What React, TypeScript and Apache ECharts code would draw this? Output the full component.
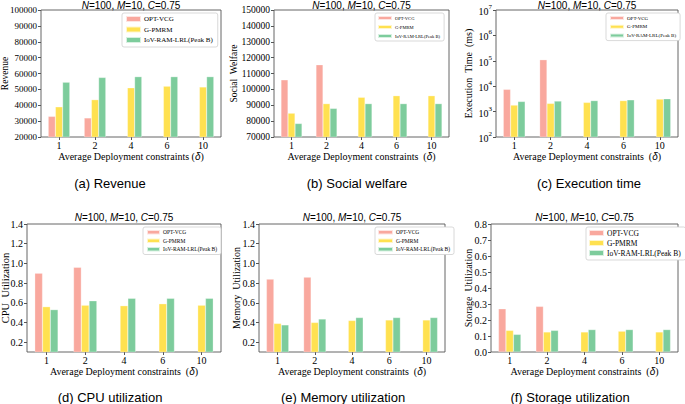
import React, { useEffect, useRef } from 'react';
import * as echarts from 'echarts';

const categories = ['1', '2', '4', '6', '10'];
const seriesNames = ['OPT-VCG', 'G-PMRM', 'IoV-RAM-LRL(Peak B)'];

const revenueOPT = [33000, 32000, null, null, null];
const revenueGPMRM = [39000, 43500, 51000, 52000, 51500];
const revenueIoV = [54500, 57500, 58000, 58000, 58000];

const welfareOPT = [106000, 115500, null, null, null];
const welfareGPMRM = [85000, 91000, 95000, 96000, 96000];
const welfareIoV = [78500, 88000, 91000, 91000, 91000];

const timeOPT = [7500, 110000, null, null, null];
const timeGPMRM = [1800, 2100, 2300, 2700, 3100];
const timeIoV = [2500, 2600, 2700, 2900, 3200];

const cpuOPT = [0.9, 0.96, null, null, null];
const cpuGPMRM = [0.56, 0.575, 0.57, 0.59, 0.575];
const cpuIoV = [0.53, 0.62, 0.645, 0.645, 0.645];

const memOPT = [0.84, 0.86, null, null, null];
const memGPMRM = [0.39, 0.4, 0.42, 0.425, 0.425];
const memIoV = [0.375, 0.435, 0.45, 0.45, 0.45];

const storOPT = [0.27, 0.285, null, null, null];
const storGPMRM = [0.135, 0.125, 0.125, 0.13, 0.125];
const storIoV = [0.11, 0.135, 0.14, 0.14, 0.14];

const utilTicks = [0.2, 0.4, 0.6, 0.8, 1.0, 1.2, 1.4];

const colors = ['#F9A89E', '#FFE150', '#7DCC9C'];
const SERIF = '"Liberation Serif", "Times New Roman", serif';
const SANS = '"Liberation Sans", Arial, sans-serif';
const AXIS = '#555';

const panels = [
  {
    grid: { left: 41, top: 10, width: 180, height: 127 },
    data: [revenueOPT, revenueGPMRM, revenueIoV],
    y: { type: 'value', min: 20000, max: 100000, interval: 10000 },
    yLabelSize: 9,
    yName: 'Revenue', yNameX: 5, yNameSize: 9.5,
    xName: 'Average Deployment constraints ({d|δ})',
    caption: '(a) Revenue', capX: 110,
    legend: { left: 122, top: 13, fs: 7, iw: 15, ih: 6, gap: 2.5, lh: 8, pad: [2, 5, 3, 3] },
  },
  {
    grid: { left: 274, top: 10, width: 175, height: 127 },
    data: [welfareOPT, welfareGPMRM, welfareIoV],
    y: { type: 'value', min: 70000, max: 150000, interval: 10000 },
    yLabelSize: 9.5,
    yName: 'Social  Welfare', yNameX: 234, yNameSize: 9.5,
    xName: 'Average Deployment constraints  ({d|δ})',
    caption: '(b) Social welfare', capX: 357,
    legend: { left: 375, top: 13, fs: 4.6, iw: 14, ih: 4, gap: 3, lh: 5.3, pad: [2, 4, 2, 2] },
  },
  {
    grid: { left: 496, top: 10, width: 182, height: 127 },
    data: [timeOPT, timeGPMRM, timeIoV],
    y: { type: 'log', min: 100, max: 10000000, logBase: 10, splitNumber: 5 },
    yLabelSize: 10,
    yName: 'Execution  Time  (ms)', yNameX: 468, yNameSize: 10,
    xName: 'Average Deployment constraints  ({d|δ})',
    caption: '(c) Execution time', capX: 589,
    legend: { left: 606, top: 13, fs: 5, iw: 14, ih: 4, gap: 2.8, lh: 5.5, pad: [2, 4, 2, 3] },
  },
  {
    grid: { left: 27, top: 224, width: 194, height: 128 },
    data: [cpuOPT, cpuGPMRM, cpuIoV],
    y: { type: 'value', min: 0.1, max: 1.4, custom: utilTicks },
    yLabelSize: 10,
    yName: 'CPU  Utilization', yNameX: 5, yNameSize: 10.5,
    xName: 'Average Deployment constraints  ({d|δ})',
    caption: '(d) CPU utilization', capX: 110,
    legend: { left: 143, top: 227, fs: 5.5, iw: 13, ih: 4.5, gap: 2, lh: 6, pad: [2, 4, 2, 3] },
  },
  {
    grid: { left: 259, top: 224, width: 186, height: 128 },
    data: [memOPT, memGPMRM, memIoV],
    y: { type: 'value', min: 0.1, max: 1.4, custom: utilTicks },
    yLabelSize: 10,
    yName: 'Memory  Utilization', yNameX: 236, yNameSize: 10,
    xName: 'Average Deployment constraints  ({d|δ})',
    caption: '(e) Memory utilization', capX: 343,
    legend: { left: 375, top: 227, fs: 5.5, iw: 15, ih: 4.5, gap: 2, lh: 6, pad: [2, 4, 2, 2] },
  },
  {
    grid: { left: 491, top: 224, width: 187, height: 128 },
    data: [storOPT, storGPMRM, storIoV],
    y: { type: 'value', min: 0, max: 0.8, interval: 0.1 },
    yLabelSize: 10,
    yName: 'Storage  Utilization', yNameX: 468, yNameSize: 10,
    xName: 'Average Deployment constraints  ({d|δ})',
    caption: '(f) Storage utilization', capX: 570,
    legend: { left: 586, top: 227, fs: 7.5, iw: 15, ih: 6, gap: 2, lh: 8, pad: [2, 5, 3, 2] },
  },
];

function buildOption() {
  const grid: any[] = [];
  const xAxis: any[] = [];
  const yAxis: any[] = [];
  const series: any[] = [];
  const legend: any[] = [];
  const graphic: any[] = [];

  panels.forEach((p, i) => {
    const g = p.grid;
    grid.push({
      left: g.left, top: g.top, width: g.width, height: g.height,
      show: true, borderColor: AXIS, borderWidth: 0.9, backgroundColor: 'transparent',
      containLabel: false,
    });
    xAxis.push({
      type: 'category', gridIndex: i, data: categories, boundaryGap: true,
      axisLine: { show: false },
      axisTick: { show: true, alignWithLabel: true, length: 3, lineStyle: { color: AXIS } },
      axisLabel: { fontFamily: SERIF, fontSize: 10, lineHeight: 9, color: '#000', margin: 4 },
      splitLine: { show: false },
    });
    const y: any = {
      type: p.y.type, gridIndex: i, min: p.y.min, max: p.y.max,
      axisLine: { show: false },
      axisTick: { show: true, length: 3, lineStyle: { color: AXIS } },
      axisLabel: { fontFamily: SERIF, fontSize: p.yLabelSize, color: '#000', margin: 4 },
      splitLine: { show: false },
    };
    if ((p.y as any).interval !== undefined) y.interval = (p.y as any).interval;
    if (p.y.type === 'log') {
      y.logBase = 10;
      y.splitNumber = 5;
      y.axisLabel.formatter = (v: number) => `{b|10}{s|${Math.round(Math.log10(v))}}`;
      y.axisLabel.rich = {
        b: { fontFamily: SERIF, fontSize: 10, color: '#000', verticalAlign: 'bottom' },
        s: { fontFamily: SERIF, fontSize: 7, color: '#000', verticalAlign: 'bottom', padding: [0, 0, 6, 0] },
      };
    } else if ((p.y as any).custom) {
      y.axisLabel.customValues = (p.y as any).custom;
      y.axisTick.customValues = (p.y as any).custom;
      y.axisLabel.formatter = (v: number) => v.toFixed(1);
    } else if (p.y.max < 1) {
      y.axisLabel.formatter = (v: number) => v.toFixed(1);
    } else {
      y.axisLabel.formatter = (v: number) => String(Math.round(v));
    }
    yAxis.push(y);

    p.data.forEach((d, k) => {
      series.push({
        type: 'bar', name: seriesNames[k], xAxisIndex: i, yAxisIndex: i,
        data: d, barWidth: '20%', barGap: '0%', clip: true,
        itemStyle: { color: colors[k], borderColor: 'rgba(255,255,255,0.7)', borderWidth: 0.4 },
      });
    });

    const L = p.legend;
    legend.push({
      data: seriesNames, orient: 'vertical', left: L.left, top: L.top,
      icon: 'rect', itemWidth: L.iw, itemHeight: L.ih, itemGap: L.gap, padding: L.pad,
      borderColor: '#cfcfcf', borderWidth: 0.8, borderRadius: 2, backgroundColor: '#fff',
      selectedMode: false,
      textStyle: { fontFamily: SERIF, fontSize: L.fs, color: '#000', lineHeight: L.lh, padding: [0, 0, 0, -2] },
    });

    const cx = g.left + g.width / 2;
    const cy = g.top + g.height / 2;
    const topRow = g.top < 100;
    graphic.push({
      type: 'text', x: cx, y: topRow ? 5 : 217,
      style: {
        text: '{i|N}=100, {i|M}=10, {i|C}=0.75', fontFamily: SANS, fontSize: 10, lineHeight: 10, fill: '#000',
        align: 'center', verticalAlign: 'middle',
        rich: { i: { fontStyle: 'italic', fontFamily: SANS, fontSize: 10, lineHeight: 10, fill: '#000' } },
      },
    });
    graphic.push({
      type: 'text', x: cx, y: topRow ? 156 : 371,
      style: {
        text: p.xName, fontFamily: SERIF, fontSize: 10, lineHeight: 9, fill: '#000',
        align: 'center', verticalAlign: 'middle',
        rich: { d: { fontStyle: 'italic', fontFamily: SANS, fontSize: 10, lineHeight: 9, fill: '#000' } },
      },
    });
    graphic.push({
      type: 'text', x: p.yNameX, y: cy, rotation: Math.PI / 2,
      style: {
        text: p.yName, fontFamily: SERIF, fontSize: p.yNameSize, fill: '#000',
        align: 'center', verticalAlign: 'middle',
      },
    });
    graphic.push({
      type: 'text', x: p.capX, y: topRow ? 183 : 397,
      style: {
        text: p.caption, fontFamily: SANS, fontSize: 13, fill: '#000',
        align: 'center', verticalAlign: 'middle',
      },
    });
  });

  return {
    animation: false,
    backgroundColor: '#fff',
    grid, xAxis, yAxis, series, legend, graphic,
  };
}

export default function App() {
  const ref = useRef<HTMLDivElement>(null);
  useEffect(() => {
    if (!ref.current) return;
    const chart = echarts.init(ref.current, undefined, { renderer: 'svg' });
    chart.setOption(buildOption() as any);
    return () => chart.dispose();
  }, []);
  return (
    <div
      ref={ref}
      style={{ position: 'absolute', left: 0, top: 0, width: 685, height: 404, background: '#fff' }}
    />
  );
}
